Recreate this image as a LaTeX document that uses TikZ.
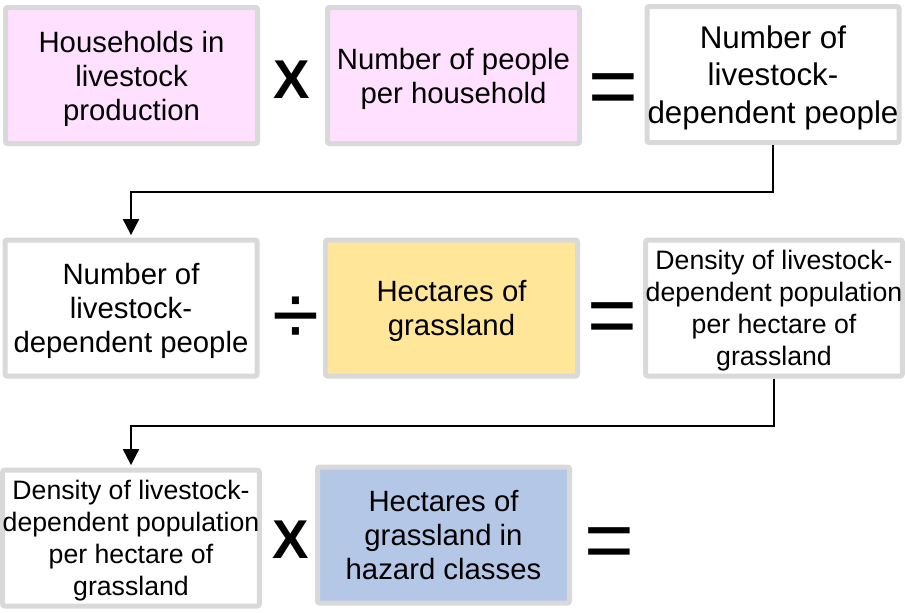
\documentclass[tikz,border=0pt]{standalone}
\usepackage{fontspec}
\setmainfont{Liberation Sans}
\usepackage{xcolor}
\usepackage{tikz}
\usetikzlibrary{positioning, arrows.meta}

\definecolor{boxgray}{HTML}{D9D9D9}
\definecolor{pinkfill}{HTML}{FFE1FF}
\definecolor{sandfill}{HTML}{FFE699}
\definecolor{bluefill}{HTML}{B4C7E7}

\newcommand{\mainsize}{\fontsize{22}{25.5}\selectfont}
\newcommand{\widesize}{\fontsize{23.5}{28}\selectfont}
\newcommand{\densesize}{\fontsize{20}{24}\selectfont}

\begin{document}
\begin{tikzpicture}[
    x=0.75pt, y=-0.75pt,
    box/.style={draw=boxgray, line width=3.75pt, rounded corners=1.5pt, minimum width=189pt, minimum height=102pt, inner sep=0pt, text depth=0pt, align=center, font=\mainsize},
    timessym/.style={inner sep=0pt, font=\fontsize{41}{41}\selectfont\bfseries},
    opsym/.style={inner sep=0pt, font=\fontsize{64}{64}\selectfont},
    flow/.style={line width=1.5pt, -{Triangle[width=12pt, length=12pt]}, shorten >=1.8pt}
]
\useasboundingbox (0,0) rectangle (905,612);

% first row
\node[box, fill=pinkfill] (households) at (131.5,75.5) {Households in\\livestock\\production};
\node[timessym] (times1) at (292,80) {X};
\node[box, fill=pinkfill] (perhouse) at (453.5,75.5) {Number of people\\per household};
\node[opsym] (equals1) at (613,95) {=};
\node[box, fill=white, font=\widesize] (people1) at (773,74.5) {Number of\\livestock-\\dependent people};

% second row
\node[box, fill=white] (people2) at (131,308) {Number of\\livestock-\\dependent people};
\node[opsym] (divide) at (296,321) {÷};
\node[box, fill=sandfill] (grass) at (451.5,308) {Hectares of\\grassland};
\node[opsym] (equals2) at (612,324) {=};
\node[box, fill=white, font=\densesize] (density1) at (774,308) {Density of livestock-\\dependent population\\per hectare of\\grassland};

% third row
\node[box, fill=white, font=\densesize] (density2) at (131,538) {Density of livestock-\\dependent population\\per hectare of\\grassland};
\node[timessym] (times2) at (291,540) {X};
\node[box, fill=bluefill] (hazard) at (443.5,535) {Hectares of\\grassland in\\hazard classes};
\node[opsym] (equals3) at (609,549) {=};

% carry results down
\draw[flow] (people1.south) -- ++(0,47) -| (people2.north);
\draw[flow] (density1.south) -- ++(0,47) -| (density2.north);
\end{tikzpicture}
\end{document}
